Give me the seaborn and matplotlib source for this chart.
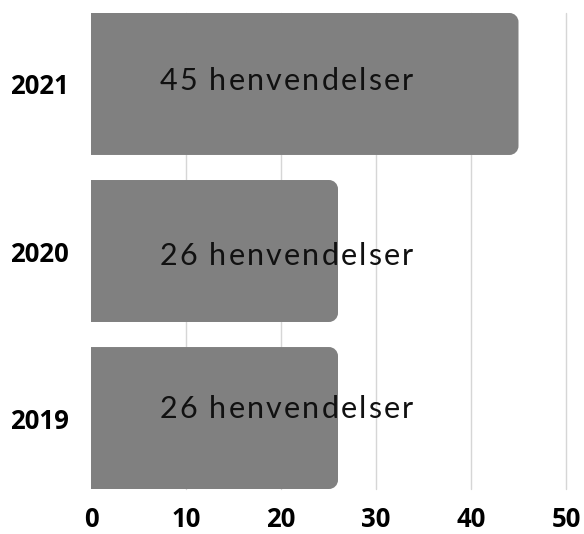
import matplotlib
matplotlib.use("Agg")
import matplotlib.pyplot as plt
import seaborn as sns
import pandas as pd
from matplotlib.path import Path
from matplotlib.patches import PathPatch
from matplotlib.transforms import offset_copy

years = ["2021", "2020", "2019"]
counts = [45, 26, 26]
labels = [f"{c} henvendelser" for c in counts]
x_ticks = [0, 10, 20, 30, 40, 50]

df = pd.DataFrame({"year": years, "count": counts})

sns.set_theme(style="white")
fig = plt.figure(figsize=(5.84, 5.34), dpi=100)
ax = fig.add_axes([91 / 584, 1 - 489 / 534, 475 / 584, 476 / 534])

bar_h = 0.85
sns.barplot(data=df, y="year", x="count", orient="h", color="#808080",
            width=bar_h, saturation=1, ax=ax, zorder=2)

ax.set_xlim(0, 50)
ax.set_ylim(2 + bar_h / 2, -bar_h / 2)

# pixels per data unit, used to round the right-hand corners
fig.canvas.draw()
renderer = fig.canvas.get_renderer()
bb = ax.get_window_extent()
px_x = bb.width / 50
px_y = bb.height / (2 + bar_h)
r = 9
k = 0.5523

for p in list(ax.patches):
    x0, y0 = p.get_x(), p.get_y()
    w, h = p.get_width(), p.get_height()
    p.remove()
    rx, ry = r / px_x, r / px_y
    x1, y1 = x0 + w, y0 + h
    verts = [
        (x0, y0),
        (x1 - rx, y0),
        (x1 - rx + k * rx, y0), (x1, y0 + ry - k * ry), (x1, y0 + ry),
        (x1, y1 - ry),
        (x1, y1 - ry + k * ry), (x1 - rx + k * rx, y1), (x1 - rx, y1),
        (x0, y1),
        (x0, y0),
    ]
    codes = [Path.MOVETO, Path.LINETO,
             Path.CURVE4, Path.CURVE4, Path.CURVE4,
             Path.LINETO,
             Path.CURVE4, Path.CURVE4, Path.CURVE4,
             Path.LINETO, Path.CLOSEPOLY]
    ax.add_patch(PathPatch(Path(verts, codes), facecolor="#808080",
                           edgecolor="none", zorder=2))

for xv in x_ticks[1:]:
    ax.axvline(xv, color="#d6d6d6", lw=1, zorder=1, clip_on=False)

# value labels, drawn with extra letter spacing
label_font = dict(fontsize=22, family="Lato", color="#111111")
tracking = 2.2  # px between characters
baseline_px = [6, 14, 0]


def text_width(s):
    t = fig.text(0, 0, s + "x", **label_font)
    w1 = t.get_window_extent(renderer).width
    t.remove()
    t = fig.text(0, 0, "x", **label_font)
    w2 = t.get_window_extent(renderer).width
    t.remove()
    return w1 - w2


for i, (lab, dy) in enumerate(zip(labels, baseline_px)):
    for j, ch in enumerate(lab):
        if ch == " ":
            continue
        dx = text_width(lab[:j]) + j * tracking
        tr = offset_copy(ax.transData, fig=fig, x=dx * 72 / fig.dpi,
                         y=-dy * 72 / fig.dpi, units="points")
        ax.text(7.2, i, ch, transform=tr, va="baseline", ha="left",
                zorder=3, **label_font)

tick_font = dict(fontsize=18.5, fontweight="bold", family="Open Sans")
ax.set_xticks(x_ticks)
ax.set_xticklabels([str(t) for t in x_ticks], **tick_font)
ax.set_yticks(range(len(years)))
ax.set_yticklabels(years, **tick_font)
ax.tick_params(axis="x", length=0, pad=12, colors="black")
ax.tick_params(axis="y", length=0, pad=16, colors="black")
ax.set_xlabel("")
ax.set_ylabel("")
for s in ax.spines.values():
    s.set_visible(False)
ax.grid(False)

fig.savefig("out.png", dpi=100)
